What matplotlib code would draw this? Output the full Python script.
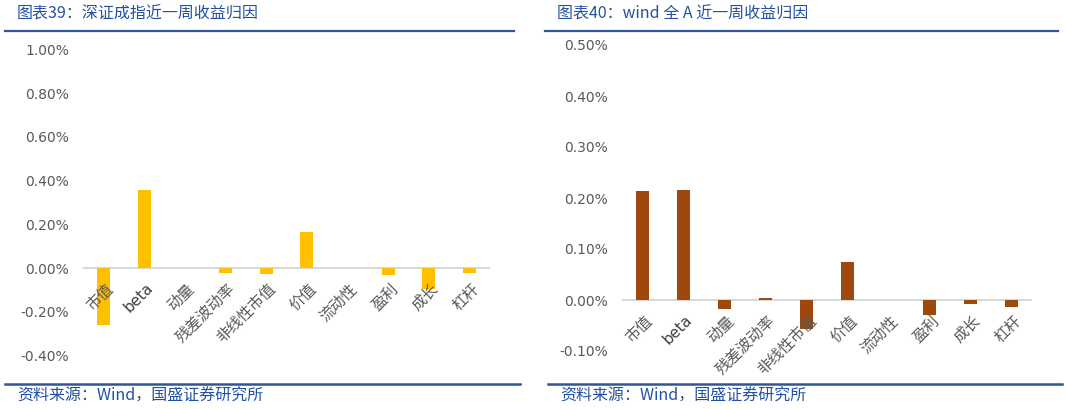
import matplotlib
matplotlib.use("Agg")
import matplotlib.pyplot as plt
from matplotlib.lines import Line2D
from matplotlib.ticker import FuncFormatter

# 数据（单位：%）
factors = ["市值", "beta", "动量", "残差波动率", "非线性市值", "价值", "流动性", "盈利", "成长", "杠杆"]
szcz_ret = [-0.261, 0.357, 0.0, -0.021, -0.027, 0.165, 0.0, -0.033, -0.096, -0.021]
wind_ret = [0.214, 0.216, -0.017, 0.0045, -0.056, 0.0745, 0.0, -0.030, -0.0085, -0.0137]

left_title = "图表39：深证成指近一周收益归因"
right_title = "图表40：wind 全 A 近一周收益归因"
source_text = "资料来源：Wind，国盛证券研究所"

CJK = ["Noto Sans CJK SC", "DejaVu Sans"]
plt.rcParams["font.family"] = CJK
plt.rcParams["axes.unicode_minus"] = False

W, H = 1065, 409
fig = plt.figure(figsize=(W / 100, H / 100), dpi=100)

BLUE_TXT = "#2350A0"
BLUE_LINE = "#2F5597"
GRAY = "#595959"


def px_axes(x0, x1, y0, y1):
    # 像素坐标 -> figure 比例
    return fig.add_axes([x0 / W, 1 - y1 / H, (x1 - x0) / W, (y1 - y0) / H])


def draw_panel(ax, values, color, ylim, step):
    x = range(len(factors))
    ax.bar(x, values, width=0.32, color=color, zorder=3)
    ax.axhline(0, color="#D9D9D9", lw=1.5, zorder=2)
    ax.set_xlim(-0.5, len(factors) - 0.5)
    ax.set_ylim(*ylim)
    n = round((ylim[1] - ylim[0]) / step)
    ax.set_yticks([ylim[0] + i * step for i in range(n + 1)])
    ax.yaxis.set_major_formatter(FuncFormatter(lambda v, p: f"{v:.2f}%".replace("-0.00", "0.00")))
    ax.tick_params(axis="y", length=0, labelsize=10, labelcolor=GRAY, pad=10)
    for lab in ax.get_yticklabels():
        lab.set_fontfamily("DejaVu Sans")
    ax.set_xticks([])
    for s in ax.spines.values():
        s.set_visible(False)
    for i, name in enumerate(factors):
        is_latin = name.isascii()
        ax.annotate(name, (i, 0), xytext=(1, -9), textcoords="offset points",
                    rotation=45, ha="right", va="top", rotation_mode="anchor",
                    fontsize=11 if is_latin else 11,
                    color="#404040" if is_latin else GRAY,
                    family="DejaVu Sans" if is_latin else CJK)


ax1 = px_axes(83, 490, 49.5, 355.4)
draw_panel(ax1, szcz_ret, "#FFC000", (-0.4, 1.0), 0.2)

ax2 = px_axes(622, 1032, 45, 351)
draw_panel(ax2, wind_ret, "#9E480E", (-0.1, 0.5), 0.1)

# 标题、分隔线、来源
for x0, x1, title in [(5, 514, left_title), (545, 1058, right_title)]:
    fig.text((x0 + 12) / W, 1 - 14 / H, title, fontsize=11.5, color=BLUE_TXT,
             style="italic", va="center", ha="left")
    fig.add_artist(Line2D([x0 / W, x1 / W], [1 - 31 / H] * 2, color=BLUE_LINE, lw=1.6))

for x0, x1 in [(5, 520), (548, 1062)]:
    fig.add_artist(Line2D([x0 / W, x1 / W], [1 - 383.5 / H] * 2, color=BLUE_LINE, lw=1.8))
    fig.text((x0 + 12) / W, 1 - 396 / H, source_text, fontsize=11.5, color=BLUE_TXT,
             style="italic", va="center", ha="left")

fig.savefig("out.png", dpi=100)
